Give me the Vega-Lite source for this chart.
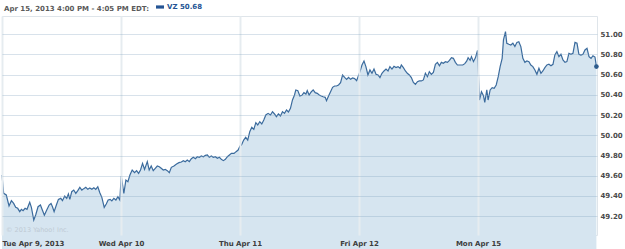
{
  "$schema": "https://vega.github.io/schema/vega-lite/v6.json",
  "autosize": "none",
  "width": 595,
  "height": 219,
  "padding": {"left": 2, "top": 16, "right": 28, "bottom": 14},
  "background": "#ffffff",
  "config": {
    "font": "DejaVu Sans",
    "view": {"stroke": "#dfe5ea", "strokeWidth": 1}
  },
  "title": {
    "text": "Apr 15, 2013 4:00 PM - 4:05 PM EDT:",
    "anchor": "start",
    "frame": "group",
    "offset": 4,
    "dx": 2,
    "dy": 12.5,
    "font": "DejaVu Sans",
    "fontSize": 7,
    "fontWeight": "bold",
    "color": "#5a5a5a"
  },
  "datasets": {
    "prices": [
      {"t": 0.000, "price": 49.607}, {"t": 0.014, "price": 49.425}, {"t": 0.036, "price": 49.409}, {"t": 0.059, "price": 49.300},
      {"t": 0.079, "price": 49.353}, {"t": 0.098, "price": 49.326}, {"t": 0.115, "price": 49.287}, {"t": 0.132, "price": 49.277},
      {"t": 0.149, "price": 49.244}, {"t": 0.163, "price": 49.267}, {"t": 0.177, "price": 49.254}, {"t": 0.194, "price": 49.277},
      {"t": 0.210, "price": 49.267}, {"t": 0.233, "price": 49.336}, {"t": 0.247, "price": 49.287}, {"t": 0.267, "price": 49.161},
      {"t": 0.283, "price": 49.211}, {"t": 0.303, "price": 49.293}, {"t": 0.323, "price": 49.310}, {"t": 0.339, "price": 49.260},
      {"t": 0.356, "price": 49.208}, {"t": 0.376, "price": 49.260}, {"t": 0.396, "price": 49.310}, {"t": 0.412, "price": 49.326},
      {"t": 0.424, "price": 49.293}, {"t": 0.438, "price": 49.244}, {"t": 0.457, "price": 49.310}, {"t": 0.474, "price": 49.366},
      {"t": 0.494, "price": 49.376}, {"t": 0.508, "price": 49.353}, {"t": 0.527, "price": 49.399}, {"t": 0.544, "price": 49.376},
      {"t": 0.558, "price": 49.419}, {"t": 0.570, "price": 49.366}, {"t": 0.586, "price": 49.442}, {"t": 0.603, "price": 49.458},
      {"t": 0.620, "price": 49.425}, {"t": 0.637, "price": 49.452}, {"t": 0.654, "price": 49.485}, {"t": 0.671, "price": 49.458},
      {"t": 0.687, "price": 49.472}, {"t": 0.704, "price": 49.485}, {"t": 0.721, "price": 49.465}, {"t": 0.738, "price": 49.478},
      {"t": 0.755, "price": 49.465}, {"t": 0.772, "price": 49.481}, {"t": 0.788, "price": 49.465}, {"t": 0.805, "price": 49.491},
      {"t": 0.822, "price": 49.432}, {"t": 0.839, "price": 49.386}, {"t": 0.859, "price": 49.287}, {"t": 0.876, "price": 49.320},
      {"t": 0.892, "price": 49.359}, {"t": 0.909, "price": 49.366}, {"t": 0.923, "price": 49.350}, {"t": 0.940, "price": 49.376},
      {"t": 0.957, "price": 49.359}, {"t": 0.974, "price": 49.392}, {"t": 0.990, "price": 49.359},
      {"t": 1.002, "price": 49.597}, {"t": 1.024, "price": 49.425}, {"t": 1.041, "price": 49.557}, {"t": 1.058, "price": 49.541},
      {"t": 1.075, "price": 49.607}, {"t": 1.094, "price": 49.656}, {"t": 1.114, "price": 49.630}, {"t": 1.131, "price": 49.650},
      {"t": 1.148, "price": 49.623}, {"t": 1.164, "price": 49.656}, {"t": 1.181, "price": 49.722}, {"t": 1.198, "price": 49.663},
      {"t": 1.221, "price": 49.739}, {"t": 1.237, "price": 49.656}, {"t": 1.254, "price": 49.696}, {"t": 1.271, "price": 49.650},
      {"t": 1.288, "price": 49.673}, {"t": 1.305, "price": 49.696}, {"t": 1.322, "price": 49.689}, {"t": 1.338, "price": 49.673},
      {"t": 1.355, "price": 49.656}, {"t": 1.372, "price": 49.663}, {"t": 1.389, "price": 49.650}, {"t": 1.406, "price": 49.630},
      {"t": 1.423, "price": 49.683}, {"t": 1.445, "price": 49.696}, {"t": 1.467, "price": 49.716}, {"t": 1.487, "price": 49.729},
      {"t": 1.507, "price": 49.736}, {"t": 1.524, "price": 49.749}, {"t": 1.540, "price": 49.739}, {"t": 1.557, "price": 49.755},
      {"t": 1.574, "price": 49.739}, {"t": 1.591, "price": 49.769}, {"t": 1.608, "price": 49.782}, {"t": 1.625, "price": 49.769},
      {"t": 1.641, "price": 49.788}, {"t": 1.658, "price": 49.782}, {"t": 1.675, "price": 49.795}, {"t": 1.692, "price": 49.788},
      {"t": 1.709, "price": 49.802}, {"t": 1.726, "price": 49.805}, {"t": 1.742, "price": 49.782}, {"t": 1.759, "price": 49.795},
      {"t": 1.776, "price": 49.782}, {"t": 1.793, "price": 49.788}, {"t": 1.810, "price": 49.772}, {"t": 1.827, "price": 49.782},
      {"t": 1.843, "price": 49.762}, {"t": 1.860, "price": 49.749}, {"t": 1.877, "price": 49.762}, {"t": 1.894, "price": 49.788},
      {"t": 1.911, "price": 49.805}, {"t": 1.928, "price": 49.821}, {"t": 1.950, "price": 49.821}, {"t": 1.967, "price": 49.838},
      {"t": 1.984, "price": 49.854}, {"t": 2.001, "price": 49.894},
      {"t": 2.012, "price": 49.904}, {"t": 2.031, "price": 49.953}, {"t": 2.048, "price": 49.980}, {"t": 2.065, "price": 49.953},
      {"t": 2.082, "price": 50.036}, {"t": 2.099, "price": 50.079}, {"t": 2.116, "price": 50.059}, {"t": 2.133, "price": 50.125},
      {"t": 2.149, "price": 50.102}, {"t": 2.166, "price": 50.135}, {"t": 2.183, "price": 50.112}, {"t": 2.200, "price": 50.151},
      {"t": 2.217, "price": 50.201}, {"t": 2.236, "price": 50.217}, {"t": 2.256, "price": 50.201}, {"t": 2.273, "price": 50.234},
      {"t": 2.290, "price": 50.211}, {"t": 2.306, "price": 50.184}, {"t": 2.323, "price": 50.211}, {"t": 2.340, "price": 50.191},
      {"t": 2.357, "price": 50.234}, {"t": 2.374, "price": 50.217}, {"t": 2.391, "price": 50.250}, {"t": 2.407, "price": 50.231},
      {"t": 2.424, "price": 50.267}, {"t": 2.441, "price": 50.350}, {"t": 2.458, "price": 50.399}, {"t": 2.469, "price": 50.449},
      {"t": 2.486, "price": 50.442}, {"t": 2.503, "price": 50.389}, {"t": 2.520, "price": 50.396}, {"t": 2.537, "price": 50.422},
      {"t": 2.554, "price": 50.409}, {"t": 2.565, "price": 50.442}, {"t": 2.581, "price": 50.399}, {"t": 2.598, "price": 50.429},
      {"t": 2.615, "price": 50.449}, {"t": 2.632, "price": 50.422}, {"t": 2.649, "price": 50.415}, {"t": 2.666, "price": 50.399},
      {"t": 2.683, "price": 50.389}, {"t": 2.699, "price": 50.382}, {"t": 2.716, "price": 50.376}, {"t": 2.727, "price": 50.343},
      {"t": 2.744, "price": 50.389}, {"t": 2.761, "price": 50.432}, {"t": 2.778, "price": 50.475}, {"t": 2.795, "price": 50.488},
      {"t": 2.811, "price": 50.488}, {"t": 2.828, "price": 50.498}, {"t": 2.845, "price": 50.521}, {"t": 2.862, "price": 50.597},
      {"t": 2.879, "price": 50.574}, {"t": 2.896, "price": 50.554}, {"t": 2.912, "price": 50.574}, {"t": 2.929, "price": 50.554},
      {"t": 2.946, "price": 50.567}, {"t": 2.963, "price": 50.561}, {"t": 2.980, "price": 50.541},
      {"t": 3.008, "price": 50.630}, {"t": 3.025, "price": 50.696}, {"t": 3.042, "price": 50.736}, {"t": 3.058, "price": 50.680},
      {"t": 3.075, "price": 50.597}, {"t": 3.092, "price": 50.647}, {"t": 3.109, "price": 50.614}, {"t": 3.126, "price": 50.656},
      {"t": 3.143, "price": 50.604}, {"t": 3.160, "price": 50.597}, {"t": 3.176, "price": 50.571}, {"t": 3.193, "price": 50.614},
      {"t": 3.210, "price": 50.637}, {"t": 3.227, "price": 50.656}, {"t": 3.244, "price": 50.637}, {"t": 3.260, "price": 50.680},
      {"t": 3.277, "price": 50.656}, {"t": 3.294, "price": 50.683}, {"t": 3.311, "price": 50.670}, {"t": 3.328, "price": 50.680},
      {"t": 3.345, "price": 50.663}, {"t": 3.356, "price": 50.696}, {"t": 3.373, "price": 50.670}, {"t": 3.390, "price": 50.637},
      {"t": 3.406, "price": 50.614}, {"t": 3.423, "price": 50.597}, {"t": 3.440, "price": 50.571}, {"t": 3.457, "price": 50.524},
      {"t": 3.474, "price": 50.505}, {"t": 3.491, "price": 50.531}, {"t": 3.507, "price": 50.538}, {"t": 3.524, "price": 50.538},
      {"t": 3.541, "price": 50.548}, {"t": 3.558, "price": 50.614}, {"t": 3.575, "price": 50.580}, {"t": 3.591, "price": 50.630},
      {"t": 3.608, "price": 50.604}, {"t": 3.625, "price": 50.623}, {"t": 3.642, "price": 50.703}, {"t": 3.659, "price": 50.722},
      {"t": 3.676, "price": 50.689}, {"t": 3.692, "price": 50.722}, {"t": 3.709, "price": 50.713}, {"t": 3.726, "price": 50.729},
      {"t": 3.743, "price": 50.722}, {"t": 3.760, "price": 50.742}, {"t": 3.777, "price": 50.769}, {"t": 3.793, "price": 50.762},
      {"t": 3.810, "price": 50.722}, {"t": 3.827, "price": 50.696}, {"t": 3.850, "price": 50.696}, {"t": 3.872, "price": 50.696},
      {"t": 3.889, "price": 50.709}, {"t": 3.906, "price": 50.736}, {"t": 3.917, "price": 50.769}, {"t": 3.934, "price": 50.742},
      {"t": 3.945, "price": 50.779}, {"t": 3.962, "price": 50.729}, {"t": 3.979, "price": 50.769}, {"t": 3.996, "price": 50.841},
      {"t": 4.012, "price": 50.349}, {"t": 4.029, "price": 50.432}, {"t": 4.046, "price": 50.392}, {"t": 4.057, "price": 50.326},
      {"t": 4.074, "price": 50.449}, {"t": 4.085, "price": 50.349}, {"t": 4.102, "price": 50.449}, {"t": 4.119, "price": 50.472},
      {"t": 4.136, "price": 50.465}, {"t": 4.153, "price": 50.498}, {"t": 4.170, "price": 50.580}, {"t": 4.186, "price": 50.680},
      {"t": 4.203, "price": 50.762}, {"t": 4.214, "price": 50.944}, {"t": 4.231, "price": 51.026}, {"t": 4.242, "price": 50.911},
      {"t": 4.259, "price": 50.901}, {"t": 4.276, "price": 50.894}, {"t": 4.293, "price": 50.911}, {"t": 4.310, "price": 50.878},
      {"t": 4.327, "price": 50.920}, {"t": 4.343, "price": 50.927}, {"t": 4.360, "price": 50.878}, {"t": 4.377, "price": 50.762},
      {"t": 4.394, "price": 50.722}, {"t": 4.411, "price": 50.736}, {"t": 4.428, "price": 50.729}, {"t": 4.444, "price": 50.696},
      {"t": 4.461, "price": 50.680}, {"t": 4.478, "price": 50.647}, {"t": 4.495, "price": 50.604}, {"t": 4.512, "price": 50.663},
      {"t": 4.529, "price": 50.614}, {"t": 4.545, "price": 50.637}, {"t": 4.562, "price": 50.670}, {"t": 4.579, "price": 50.696},
      {"t": 4.596, "price": 50.703}, {"t": 4.613, "price": 50.689}, {"t": 4.630, "price": 50.703}, {"t": 4.646, "price": 50.795},
      {"t": 4.663, "price": 50.828}, {"t": 4.680, "price": 50.779}, {"t": 4.697, "price": 50.802}, {"t": 4.714, "price": 50.746},
      {"t": 4.731, "price": 50.722}, {"t": 4.747, "price": 50.729}, {"t": 4.764, "price": 50.812}, {"t": 4.781, "price": 50.802},
      {"t": 4.798, "price": 50.812}, {"t": 4.815, "price": 50.920}, {"t": 4.832, "price": 50.911}, {"t": 4.848, "price": 50.802},
      {"t": 4.865, "price": 50.795}, {"t": 4.882, "price": 50.802}, {"t": 4.899, "price": 50.845}, {"t": 4.916, "price": 50.861},
      {"t": 4.933, "price": 50.779}, {"t": 4.950, "price": 50.762}, {"t": 4.966, "price": 50.788}, {"t": 4.983, "price": 50.775},
      {"t": 4.995, "price": 50.680}
    ]
  },
  "layer": [
    {
      "data": {"name": "prices"},
      "mark": {"type": "area", "color": "#d6e5f0", "opacity": 1},
      "encoding": {
        "x": {
          "field": "t", "type": "quantitative",
          "scale": {"domain": [0, 5], "nice": false, "zero": false},
          "axis": {
            "values": [0, 1, 2, 3, 4],
            "tickCount": 20,
            "labelExpr": "['Tue Apr 9, 2013', 'Wed Apr 10', 'Thu Apr 11', 'Fri Apr 12', 'Mon Apr 15'][datum.value]",
            "labelFlush": true,
            "labelOverlap": false,
            "title": null,
            "domain": false,
            "ticks": false,
            "grid": true,
            "gridColor": "#e6ecf0",
            "gridWidth": 2,
            "zindex": 1,
            "labelFont": "DejaVu Sans",
            "labelFontSize": 7,
            "labelFontWeight": "bold",
            "labelColor": "#3d3d3d",
            "labelPadding": 4
          }
        },
        "y": {
          "field": "price", "type": "quantitative",
          "scale": {"domain": [49.013, 51.181], "nice": false, "zero": false},
          "axis": {
            "orient": "right",
            "values": [49.2, 49.4, 49.6, 49.8, 50.0, 50.2, 50.4, 50.6, 50.8, 51.0],
            "tickCount": 20,
            "format": ".2f",
            "labelOverlap": false,
            "title": null,
            "domain": false,
            "ticks": false,
            "grid": true,
            "gridColor": "#7fa0bd",
            "gridOpacity": 0.3,
            "gridWidth": 1,
            "zindex": 1,
            "labelFont": "DejaVu Sans",
            "labelFontSize": 7,
            "labelFontWeight": "bold",
            "labelColor": "#4a4a4a",
            "labelPadding": 3
          }
        }
      }
    },
    {
      "data": {"name": "prices"},
      "mark": {"type": "line", "strokeWidth": 1.2, "interpolate": "linear"},
      "encoding": {
        "x": {"field": "t", "type": "quantitative"},
        "y": {"field": "price", "type": "quantitative"},
        "color": {
          "datum": "VZ 50.68",
          "scale": {"range": ["#3b6b9d"]},
          "legend": {
            "title": null,
            "orient": "none",
            "legendX": 154,
            "legendY": -13,
            "padding": 0,
            "symbolType": "M-1,-0.4H1V0.4H-1Z",
            "symbolSize": 64,
            "symbolOffset": 0,
            "labelFont": "DejaVu Sans",
            "labelFontSize": 7,
            "labelFontWeight": "bold",
            "labelColor": "#245494",
            "labelOffset": 3,
            "symbolFillColor": "#245494",
            "symbolStrokeWidth": 0,
            "encode": {"symbols": {"update": {"fill": {"value": "#245494"}, "stroke": {"value": "#245494"}, "strokeWidth": {"value": 0}}}}
          }
        }
      }
    },
    {
      "data": {"name": "prices"},
      "transform": [{"filter": "datum.t >= 4.99"}],
      "mark": {"type": "point", "filled": true, "size": 22, "color": "#2d5b8c", "opacity": 1},
      "encoding": {
        "x": {"field": "t", "type": "quantitative"},
        "y": {"field": "price", "type": "quantitative"}
      }
    },
    {
      "data": {"values": [{"t": 0, "price": 49.062, "label": "© 2013 Yahoo! Inc."}]},
      "mark": {"type": "text", "align": "left", "baseline": "middle", "dx": 4, "font": "DejaVu Sans", "fontSize": 6.5, "color": "#bfcad4"},
      "encoding": {
        "x": {"field": "t", "type": "quantitative"},
        "y": {"field": "price", "type": "quantitative"},
        "text": {"field": "label"}
      }
    }
  ]
}
